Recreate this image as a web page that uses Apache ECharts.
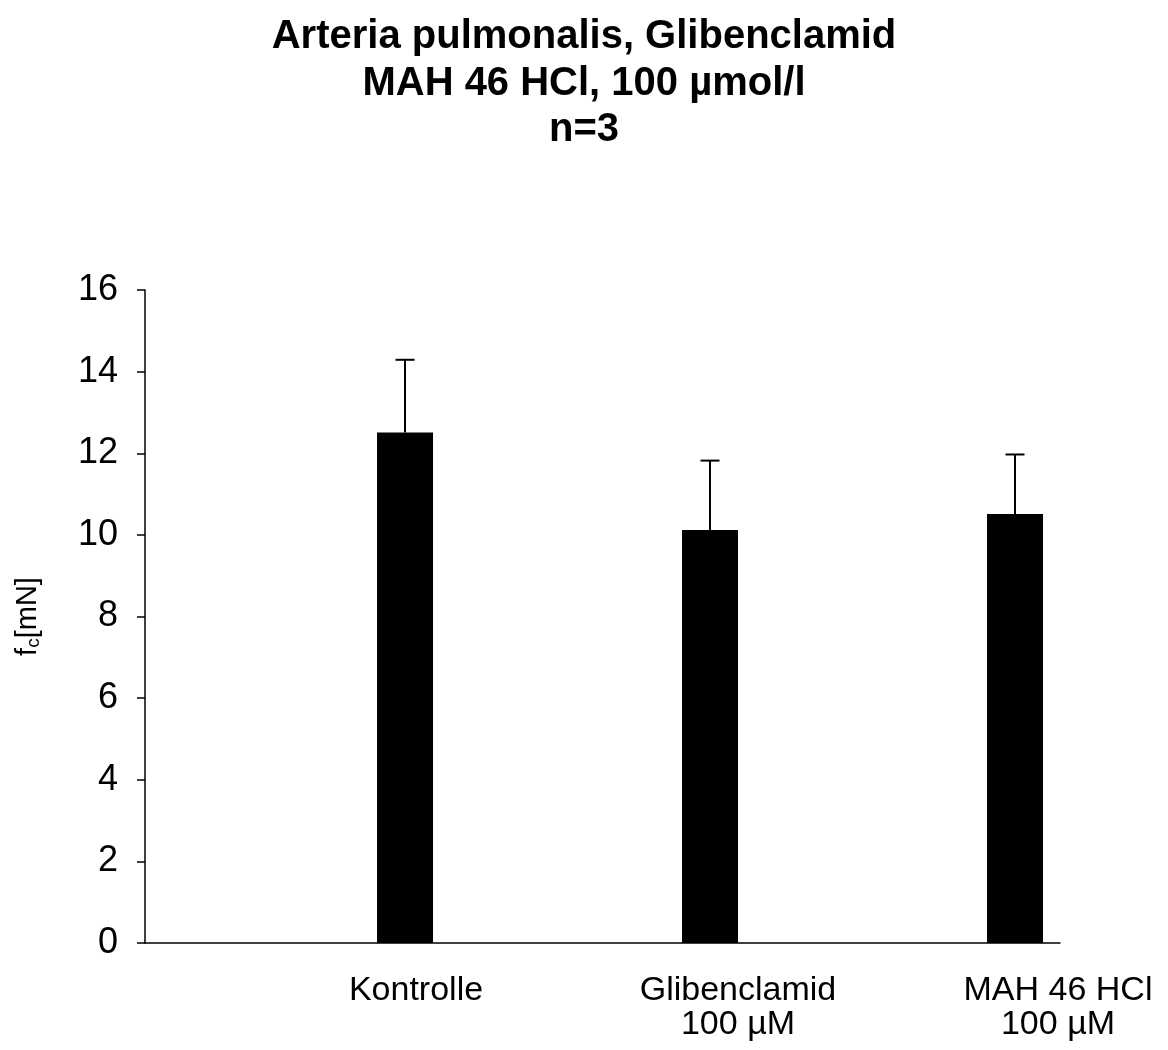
<!DOCTYPE html>
<html>
<head>
<meta charset="utf-8">
<script src="https://cdn.jsdelivr.net/npm/echarts@6/dist/echarts.min.js"></script>
<style>
html,body{margin:0;padding:0;background:#fff;}
#chart{width:1168px;height:1050px;}
</style>
</head>
<body>
<div id="chart"></div>
<script>
// ---- data ----
var titleLines = ['Arteria pulmonalis, Glibenclamid', 'MAH 46 HCl, 100 µmol/l', 'n=3'];
var categories = ['Kontrolle', 'Glibenclamid\n100 µM', 'MAH 46 HCl\n100 µM'];
var means = [12.51, 10.12, 10.51];
var sdErrors = [1.78, 1.70, 1.46];
var yTicks = [0, 2, 4, 6, 8, 10, 12, 14, 16];

// ---- style constants ----
var FONT = 'Liberation Sans, Arial, sans-serif';
var BAR_W = 56;
var BAR_GAP_PCT = 284;
var BAR_OFFSET = BAR_W * (1 + BAR_GAP_PCT / 100) / 2;
var labelPads = [237, 271, 301];

var errData = categories.map(function (c, i) { return [i, means[i], means[i] + sdErrors[i]]; });

var chart = echarts.init(document.getElementById('chart'));
chart.setOption({
  animation: false,
  backgroundColor: '#ffffff',
  title: {
    text: titleLines.join('\n'),
    left: 'center',
    top: 9,
    textStyle: { fontFamily: FONT, fontWeight: 'bold', fontSize: 40, lineHeight: 46.5, color: '#000' }
  },
  grid: { left: 145, right: 108, top: 290, bottom: 107 },
  xAxis: {
    type: 'category',
    data: categories,
    axisLine: { lineStyle: { color: '#000', width: 1.5 } },
    axisTick: { show: false },
    axisLabel: {
      interval: 0,
      margin: 31,
      hideOverlap: false,
      formatter: function (v, i) {
        return v.split('\n').map(function (s) { return '{l' + i + '|' + s + '}'; }).join('\n');
      },
      rich: {
        l0: { fontFamily: FONT, fontSize: 34, lineHeight: 34, color: '#000', padding: [0, 0, 0, labelPads[0]] },
        l1: { fontFamily: FONT, fontSize: 34, lineHeight: 34, color: '#000', padding: [0, 0, 0, labelPads[1]] },
        l2: { fontFamily: FONT, fontSize: 34, lineHeight: 34, color: '#000', padding: [0, 0, 0, labelPads[2]] }
      }
    }
  },
  yAxis: {
    type: 'value',
    min: yTicks[0],
    max: yTicks[yTicks.length - 1],
    interval: yTicks[1] - yTicks[0],
    name: '{a|f}{b|c}{a|[mN]}',
    nameLocation: 'middle',
    nameRotate: 90,
    nameGap: 102,
    nameTextStyle: {
      rich: {
        a: { fontFamily: FONT, fontSize: 29, color: '#000' },
        b: { fontFamily: FONT, fontSize: 19, color: '#000', padding: [12, 0, 0, 0] }
      }
    },
    axisLine: { show: true, lineStyle: { color: '#000', width: 1.5 } },
    axisTick: { show: true, length: 8, lineStyle: { color: '#000', width: 1.5 } },
    splitLine: { show: false },
    axisLabel: { fontFamily: FONT, fontSize: 36, color: '#000', margin: 27 }
  },
  series: [
    {
      type: 'bar',
      data: categories.map(function () { return '-'; }),
      barWidth: BAR_W,
      barGap: BAR_GAP_PCT + '%',
      silent: true
    },
    {
      type: 'bar',
      data: means,
      barWidth: BAR_W,
      barGap: BAR_GAP_PCT + '%',
      itemStyle: { color: '#000' }
    },
    {
      type: 'custom',
      data: errData,
      z: 1,
      renderItem: function (params, api) {
        var base = api.coord([api.value(0), api.value(1)]);
        var top = api.coord([api.value(0), api.value(2)]);
        var x = base[0] + BAR_OFFSET;
        var capHalf = 9.5;
        return {
          type: 'group',
          children: [
            { type: 'line', shape: { x1: x, y1: base[1], x2: x, y2: top[1] }, style: { stroke: '#000', lineWidth: 2 } },
            { type: 'line', shape: { x1: x - capHalf, y1: top[1], x2: x + capHalf, y2: top[1] }, style: { stroke: '#000', lineWidth: 2 } }
          ]
        };
      }
    }
  ]
});
</script>
</body>
</html>
